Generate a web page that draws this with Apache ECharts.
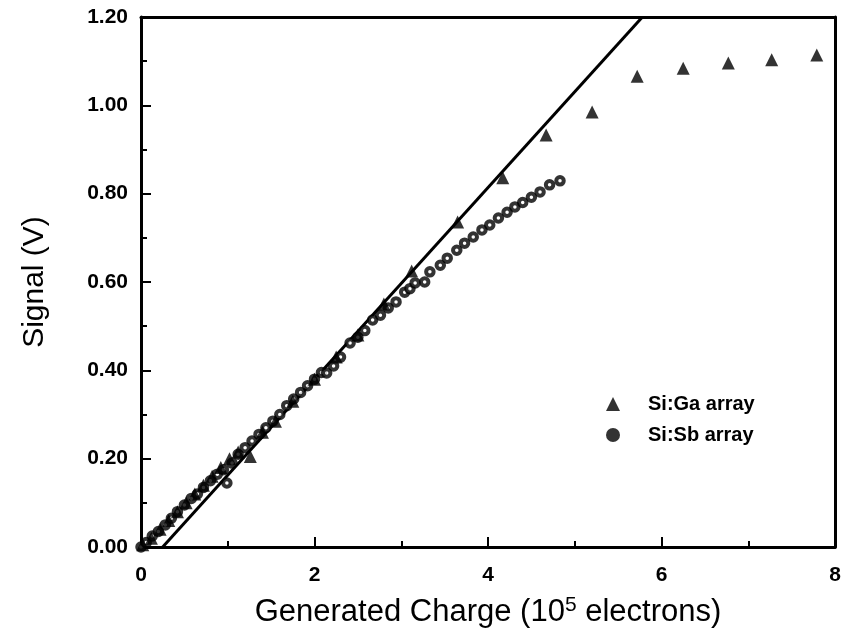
<!DOCTYPE html>
<html>
<head>
<meta charset="utf-8">
<script src="https://cdn.jsdelivr.net/npm/echarts@6/dist/echarts.min.js"></script>
<style>html,body{margin:0;padding:0;background:#fff}#c{width:846px;height:637px}</style>
</head>
<body>
<div id="c"></div>
<script>
// Si:Ga array (triangles)
const gaX = [0.02,0.12,0.22,0.32,0.42,0.52,0.62,0.72,0.82,0.92,1.02,1.12,1.26,1.40,1.55,1.75,2.00,2.25,2.50,2.80,3.12,3.65,4.17,4.67,5.20,5.72,6.25,6.77,7.27,7.79];
const gaY = [0.005,0.02,0.04,0.06,0.08,0.10,0.12,0.14,0.16,0.18,0.20,0.215,0.205,0.26,0.285,0.33,0.38,0.43,0.48,0.55,0.625,0.736,0.836,0.933,0.985,1.066,1.084,1.096,1.103,1.114];
// Si:Sb array (circles)
const sbX = [0.00,0.06,0.13,0.20,0.28,0.35,0.42,0.50,0.58,0.65,0.72,0.80,0.88,0.95,0.99,1.05,1.12,1.20,1.28,1.36,1.44,1.52,1.60,1.68,1.76,1.84,1.92,2.00,2.08,2.14,2.22,2.30,2.41,2.50,2.58,2.67,2.76,2.85,2.94,3.04,3.10,3.16,3.27,3.33,3.45,3.53,3.64,3.73,3.83,3.93,4.02,4.12,4.22,4.31,4.40,4.50,4.60,4.71,4.83];
const sbY = [0.00,0.01,0.025,0.035,0.05,0.065,0.08,0.095,0.11,0.12,0.135,0.15,0.165,0.175,0.145,0.19,0.21,0.225,0.24,0.255,0.27,0.285,0.30,0.32,0.335,0.35,0.365,0.38,0.395,0.394,0.41,0.43,0.462,0.475,0.49,0.514,0.525,0.541,0.555,0.577,0.585,0.598,0.600,0.623,0.638,0.654,0.672,0.688,0.702,0.718,0.729,0.745,0.758,0.770,0.780,0.792,0.804,0.820,0.829];
// fitted line
const fitX = [0.25,5.78];
const fitY = [0.00,1.20];
const xTicks = [0,2,4,6,8];
const yTicks = [0,0.2,0.4,0.6,0.8,1.0,1.2];

const zip = (a,b)=>a.map((v,i)=>[v,b[i]]);
const font = '"Liberation Sans", Arial, Helvetica, sans-serif';
const chart = echarts.init(document.getElementById('c'));
chart.setOption({
  animation:false,
  backgroundColor:'#fff',
  grid:{left:141,right:11,top:17,bottom:90,containLabel:false,outerBoundsMode:'none'},
  legend:{
    orient:'vertical', left:601, top:389, itemGap:11, itemWidth:14, itemHeight:14,
    textStyle:{fontFamily:font,fontWeight:'bold',fontSize:20,color:'#000',padding:[0,0,0,23]},
    data:[
      {name:'Si:Ga array',icon:'triangle',itemStyle:{color:'#000',borderWidth:0}},
      {name:'Si:Sb array',icon:'circle',itemStyle:{color:'#000',borderWidth:0}}
    ]
  },
  xAxis:[{
    type:'value',min:0,max:8,interval:2,
    name:'Generated Charge (10{sup|5} electrons)',nameLocation:'middle',nameGap:48,
    nameTextStyle:{fontFamily:font,fontSize:31,color:'#000',rich:{sup:{fontFamily:font,fontSize:21,verticalAlign:'top',padding:[0,0,14,0],color:'#000'}}},
    axisLine:{lineStyle:{color:'#000',width:3}},
    axisTick:{inside:true,length:10,lineStyle:{color:'#000',width:2}},
    minorTick:{show:true,splitNumber:2,length:6,lineStyle:{color:'#000',width:2}},
    axisLabel:{fontFamily:font,fontWeight:'bold',fontSize:21,color:'#000',margin:18,
      formatter:v=>xTicks.includes(v)?String(v):''},
    splitLine:{show:false}
  },{
    type:'value',min:0,max:8,position:'top',
    axisLine:{onZero:false,lineStyle:{color:'#000',width:3}},
    axisTick:{show:false},axisLabel:{show:false},splitLine:{show:false}
  }],
  yAxis:[{
    type:'value',min:0,max:1.2,interval:0.2,
    name:'Signal (V)',nameLocation:'middle',nameGap:91,nameRotate:90,
    nameTextStyle:{fontFamily:font,fontSize:30,color:'#000'},
    axisLine:{lineStyle:{color:'#000',width:3}},
    axisTick:{inside:true,length:10,lineStyle:{color:'#000',width:2}},
    minorTick:{show:true,splitNumber:2,length:6,lineStyle:{color:'#000',width:2}},
    axisLabel:{fontFamily:font,fontWeight:'bold',fontSize:21,color:'#000',margin:13,
      formatter:v=>v.toFixed(2)},
    splitLine:{show:false}
  },{
    type:'value',min:0,max:1.2,position:'right',
    axisLine:{show:true,onZero:false,lineStyle:{color:'#000',width:3}},
    axisTick:{show:false},axisLabel:{show:false},splitLine:{show:false}
  }],
  series:[
    {name:'fit',type:'line',data:zip(fitX,fitY),symbol:'none',lineStyle:{color:'#000',width:3},z:2},
    {name:'Si:Sb array',type:'scatter',data:zip(sbX,sbY),symbol:'circle',symbolSize:7.5,
      itemStyle:{color:'#fff',borderColor:'#000',borderWidth:4},z:3},
    {name:'Si:Ga array',type:'scatter',data:zip(gaX,gaY),symbol:'triangle',symbolSize:13,
      itemStyle:{color:'#000'},z:4}
  ]
});
</script>
</body>
</html>
